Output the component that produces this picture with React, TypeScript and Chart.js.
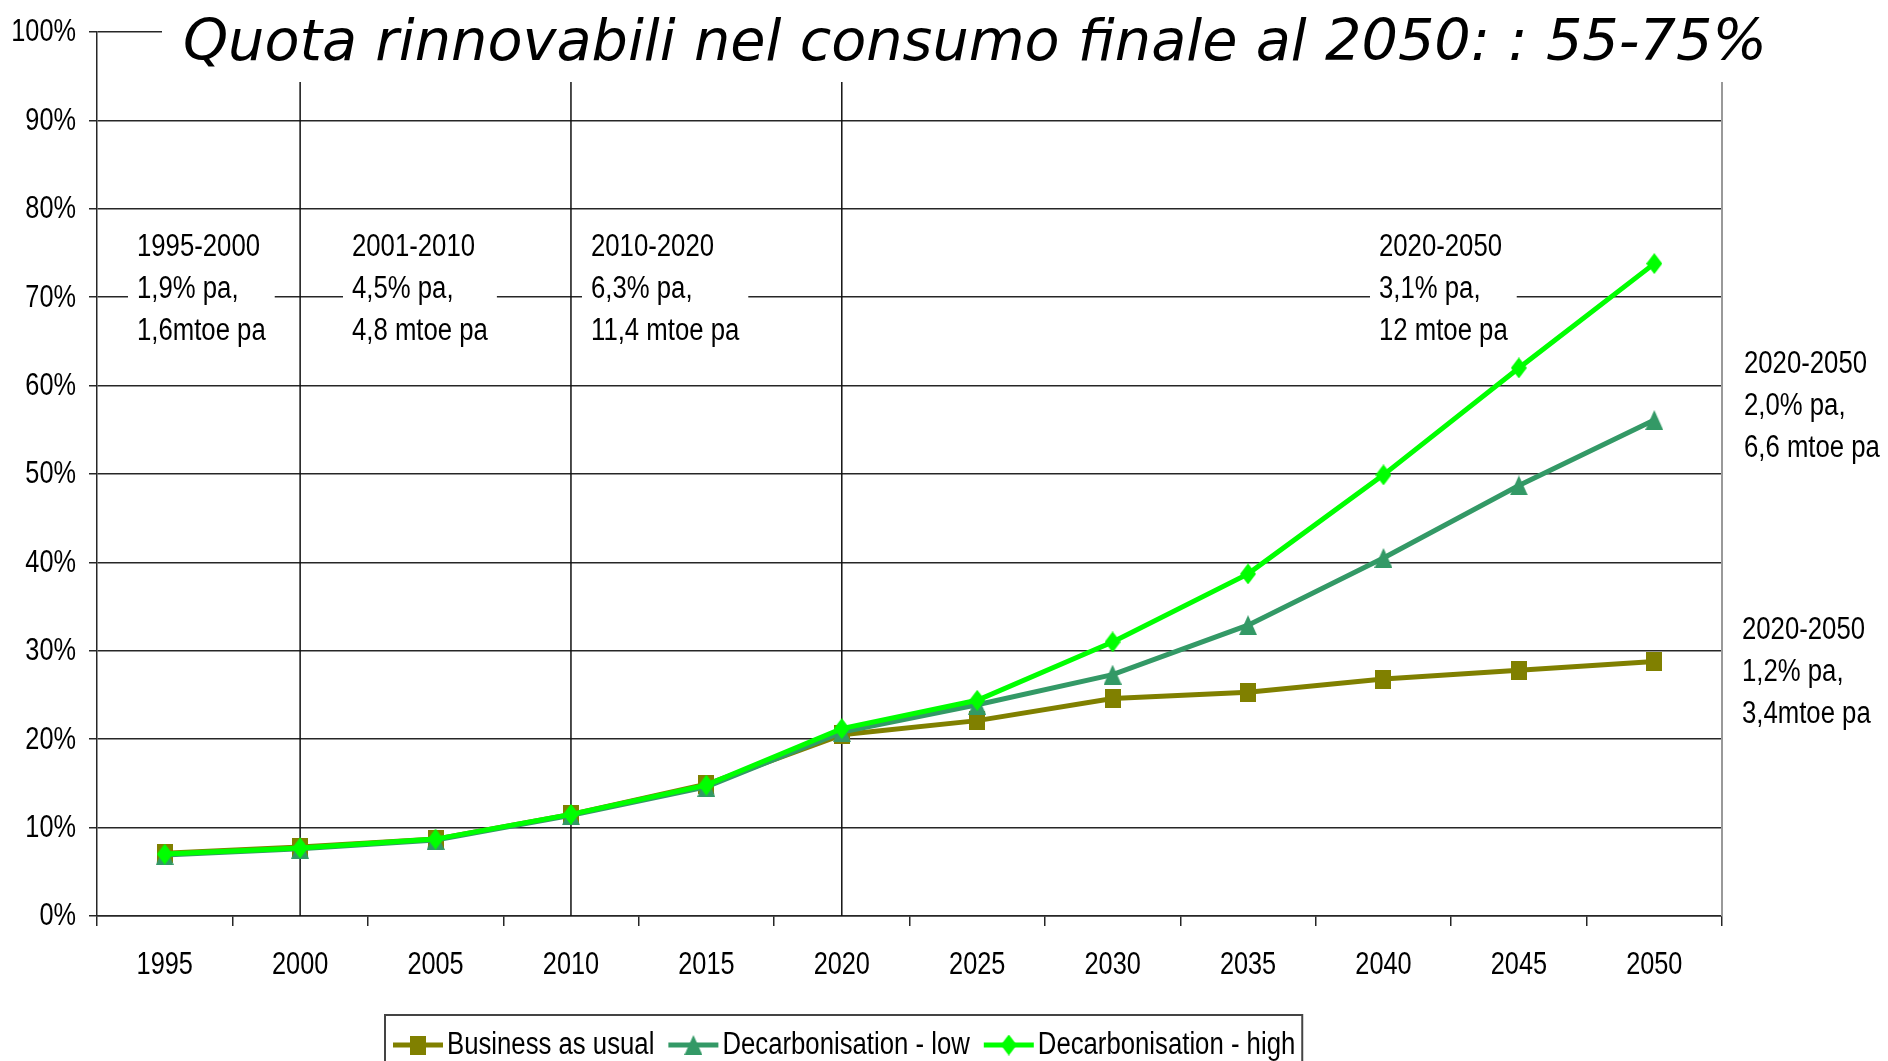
import React, { useEffect, useRef } from 'react';
import { Chart, registerables } from 'chart.js';

Chart.register(...registerables);

// ---------- data ----------
const categories = ['1995', '2000', '2005', '2010', '2015', '2020', '2025', '2030', '2035', '2040', '2045', '2050'];
const businessAsUsual = [7.1, 7.8, 8.7, 11.5, 14.9, 20.5, 22.1, 24.6, 25.3, 26.8, 27.8, 28.8];
const decarbonisationLow = [6.9, 7.6, 8.6, 11.4, 14.6, 20.8, 23.9, 27.3, 32.9, 40.5, 48.7, 56.1];
const decarbonisationHigh = [7.0, 7.7, 8.7, 11.5, 14.8, 21.2, 24.4, 31.0, 38.7, 49.9, 62.0, 73.8];
const seriesNames = ['Business as usual', 'Decarbonisation - low', 'Decarbonisation - high'];
const seriesColors = ['#808000', '#339966', '#00ff00'];
const yMin = 0;
const yMax = 100;
const yStep = 10;
const titleText = 'Quota rinnovabili nel consumo finale al 2050: : 55-75%';
const periodBoundaries = ['2000', '2010', '2020'];
const noteTexts = [
  ['1995-2000', '1,9% pa,', '1,6mtoe pa'],
  ['2001-2010', '4,5% pa,', '4,8 mtoe pa'],
  ['2010-2020', '6,3% pa,', '11,4 mtoe pa'],
  ['2020-2050', '3,1% pa,', '12 mtoe pa'],
  ['2020-2050', '2,0% pa,', '6,6 mtoe pa'],
  ['2020-2050', '1,2% pa,', '3,4mtoe pa'],
];

// ---------- layout (pixels) ----------
const W = 1888;
const H = 1061;
const FONT = '"Liberation Sans", Arial, sans-serif';
const K = 0.83; // horizontal condensing of the chart text
const notePos = [
  { x: 137, y: 247 },
  { x: 352, y: 247 },
  { x: 591, y: 247 },
  { x: 1379, y: 247 },
  { x: 1744, y: 364 },
  { x: 1742, y: 630 },
];
const NOTE_LINE = 42;
const TITLE = { left: 183, baseline: 60, width: 1584, boxLeft: 162, boxBottom: 82 };
const LEGEND = { left: 385, top: 1015, cy: 1045, fontSize: 31 };
const GRID = '#262626';
const X_LABEL_Y = 966;
const Y_LABEL_RIGHT = 76;
const AXIS_FONT = 30.5;

function makeMarker(shape: string, w: number, h: number, color: string) {
  const c = document.createElement('canvas');
  c.width = w;
  c.height = h;
  const g = c.getContext('2d')!;
  g.fillStyle = color;
  g.beginPath();
  if (shape === 'square') {
    g.rect(0, 0, w, h);
  } else if (shape === 'triangle') {
    g.moveTo(w / 2, 0);
    g.lineTo(w, h);
    g.lineTo(0, h);
    g.closePath();
  } else {
    g.moveTo(w / 2, 0);
    g.lineTo(w, h / 2);
    g.lineTo(w / 2, h);
    g.lineTo(0, h / 2);
    g.closePath();
  }
  g.fill();
  return c;
}

function narrowText(ctx: CanvasRenderingContext2D, text: string, x: number, y: number, align: CanvasTextAlign) {
  ctx.save();
  ctx.translate(x, y);
  ctx.scale(K, 1);
  ctx.textAlign = align;
  ctx.fillText(text, 0, 0);
  ctx.restore();
}

export default function App() {
  const ref = useRef<HTMLCanvasElement | null>(null);

  useEffect(() => {
    const canvas = ref.current;
    if (!canvas) return;

    const markers = [
      makeMarker('square', 16, 19, seriesColors[0]),
      makeMarker('triangle', 18, 20, seriesColors[1]),
      makeMarker('diamond', 16, 21, seriesColors[2]),
    ];

    const decor = {
      id: 'decor',
      beforeDatasetsDraw(chart: any) {
        const { ctx, chartArea, scales } = chart;
        const x = scales.x;
        const y = scales.y;
        ctx.save();
        // vertical period lines
        ctx.strokeStyle = '#111';
        ctx.lineWidth = 1.5;
        periodBoundaries.forEach((c) => {
          const px = x.getPixelForValue(categories.indexOf(c));
          ctx.beginPath();
          ctx.moveTo(px, TITLE.boxBottom);
          ctx.lineTo(px, chartArea.bottom);
          ctx.stroke();
        });
        // right border
        ctx.strokeStyle = '#999';
        ctx.lineWidth = 2;
        ctx.beginPath();
        ctx.moveTo(chartArea.right, TITLE.boxBottom);
        ctx.lineTo(chartArea.right, chartArea.bottom);
        ctx.stroke();

        // axis labels (condensed)
        ctx.fillStyle = '#000';
        ctx.font = `${AXIS_FONT}px ${FONT}`;
        ctx.textBaseline = 'middle';
        categories.forEach((c, i) => narrowText(ctx, c, x.getPixelForValue(i), X_LABEL_Y, 'center'));
        y.ticks.forEach((t: any) => narrowText(ctx, `${t.value}%`, Y_LABEL_RIGHT, y.getPixelForValue(t.value) + 1, 'right'));

        // note boxes
        ctx.font = `31px ${FONT}`;
        ctx.textBaseline = 'middle';
        noteTexts.forEach((lines, i) => {
          const p = notePos[i];
          const wmax = K * Math.max(...lines.map((l) => ctx.measureText(l).width));
          ctx.fillStyle = '#fff';
          ctx.fillRect(p.x - 9, p.y - 22, wmax + 18, NOTE_LINE * (lines.length - 1) + 44);
          ctx.fillStyle = '#000';
          lines.forEach((l, k) => narrowText(ctx, l, p.x, p.y + k * NOTE_LINE, 'left'));
        });

        // title
        ctx.fillStyle = '#fff';
        ctx.fillRect(TITLE.boxLeft, 0, W - TITLE.boxLeft, TITLE.boxBottom - 1);
        ctx.font = 'italic 50px "DejaVu Sans", Verdana, sans-serif';
        const tw = ctx.measureText(titleText).width;
        const size = (50 * TITLE.width) / tw;
        ctx.font = `italic ${size.toFixed(2)}px "DejaVu Sans", Verdana, sans-serif`;
        ctx.fillStyle = '#000';
        ctx.textBaseline = 'alphabetic';
        ctx.textAlign = 'left';
        ctx.fillText(titleText, TITLE.left, TITLE.baseline);
        ctx.restore();
      },
      afterDraw(chart: any) {
        const { ctx } = chart;
        ctx.save();
        ctx.font = `${LEGEND.fontSize}px ${FONT}`;
        ctx.textBaseline = 'middle';
        let xx = LEGEND.left + 8;
        seriesNames.forEach((name, i) => {
          ctx.strokeStyle = seriesColors[i];
          ctx.lineWidth = 5;
          ctx.beginPath();
          ctx.moveTo(xx, LEGEND.cy);
          ctx.lineTo(xx + 50, LEGEND.cy);
          ctx.stroke();
          const m = markers[i];
          ctx.drawImage(m, xx + 25 - m.width / 2, LEGEND.cy - m.height / 2);
          xx += 54;
          ctx.fillStyle = '#000';
          narrowText(ctx, name, xx, LEGEND.cy, 'left');
          xx += K * ctx.measureText(name).width + 14;
        });
        const right = xx - 14 + 7;
        ctx.strokeStyle = '#444';
        ctx.lineWidth = 2;
        ctx.strokeRect(LEGEND.left, LEGEND.top, right - LEGEND.left, 120);
        ctx.restore();
      },
    };

    const data = [businessAsUsual, decarbonisationLow, decarbonisationHigh];
    const orders = [2, 1, 0];

    const chart = new Chart(canvas, {
      type: 'line',
      data: {
        labels: categories,
        datasets: data.map((d, i) => ({
          label: seriesNames[i],
          data: d,
          borderColor: seriesColors[i],
          backgroundColor: seriesColors[i],
          borderWidth: 5,
          pointStyle: markers[i] as any,
          pointRadius: 9,
          tension: 0,
          fill: false,
          order: orders[i],
        })),
      },
      options: {
        responsive: false,
        animation: false,
        devicePixelRatio: 1,
        layout: { padding: { top: 32, right: W - 1722, bottom: H - 916 - 80, left: 0 } },
        plugins: {
          legend: { display: false },
          title: { display: false },
          tooltip: { enabled: false },
        },
        scales: {
          x: {
            type: 'category',
            offset: true,
            grid: {
              display: true,
              drawOnChartArea: false,
              drawTicks: true,
              tickLength: 10,
              offset: true,
              color: GRID,
              lineWidth: 1.5,
            },
            border: { display: true, color: GRID, width: 1.5 },
            ticks: {
              color: 'rgba(0,0,0,0)',
              font: { family: FONT, size: 30 },
              padding: 14,
              maxRotation: 0,
              autoSkip: false,
            },
            afterFit: (s: any) => {
              s.height = 80;
            },
          },
          y: {
            min: yMin,
            max: yMax,
            grid: {
              display: true,
              drawTicks: true,
              tickLength: 8,
              color: GRID,
              lineWidth: 1.5,
            },
            border: { display: true, color: GRID, width: 1.5 },
            ticks: {
              stepSize: yStep,
              color: 'rgba(0,0,0,0)',
              font: { family: FONT, size: 30 },
              padding: 13,
              callback: (v: any) => `${v}%`,
            },
            afterFit: (s: any) => {
              s.width = 97;
            },
          },
        },
      },
      plugins: [decor],
    });

    return () => chart.destroy();
  }, []);

  return (
    <div style={{ position: 'fixed', left: 0, top: 0, width: W, height: H, background: '#fff' }}>
      <canvas ref={ref} width={W} height={H} style={{ display: 'block', width: W, height: H }} />
    </div>
  );
}
